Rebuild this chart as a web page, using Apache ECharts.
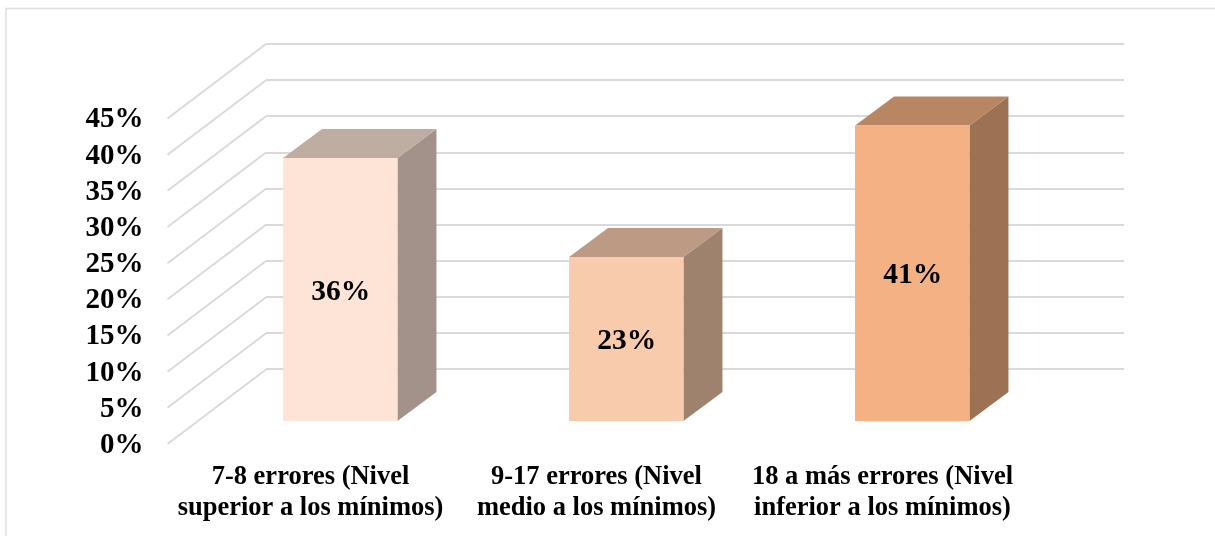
<!DOCTYPE html>
<html><head><meta charset="utf-8">
<style>html,body{margin:0;padding:0;background:#fff}#c{width:1215px;height:536px}</style>
<script src="https://cdn.jsdelivr.net/npm/echarts@6/dist/echarts.min.js"></script>
</head><body><div id="c"></div>
<script>
const categories = ['7-8 errores (Nivel\nsuperior a los mínimos)', '9-17 errores (Nivel\nmedio a los mínimos)', '18 a más errores (Nivel\ninferior a los mínimos)'];
const values = [36.4, 22.7, 40.9];
const ticks = [0, 5, 10, 15, 20, 25, 30, 35, 40, 45];
const frontColors = ['#FDE4D6', '#F7CBAC', '#F4B183'];
const topColors = ['#BEADA1', '#BC9A83', '#B98663'];
const sideColors = ['#A29289', '#9E826E', '#9C7154'];

const FONT = '"Liberation Serif","Times New Roman",serif';
const WALL_Y0 = -1.5;                    // diagonal start relative to label position
const WALL_DX = 98.5, WALL_DY = -74.5;   // front plane to back wall
const BAR_DX = 39, BAR_DY = -29;         // bar depth
const GRID_LINE = '#D9D9D9';

const yAxisBase = {type: 'value', min: 0, max: 45, interval: 5};
const xAxisBase = {type: 'category', data: categories, axisLine: {show: false}, axisTick: {show: false}};

const chart = echarts.init(document.getElementById('c'), null, {renderer: 'canvas'});
chart.setOption({
  animation: false,
  backgroundColor: '#fff',
  graphic: [{type: 'rect', silent: true, z: 0,
    shape: {x: 6, y: 8.5, width: 1400, height: 800},
    style: {fill: 'none', stroke: '#DEDEDE', lineWidth: 1.5}}],
  grid: [
    {left: 167.5, width: 858, top: 120, height: 325.5},    // front plane: axis labels
    {left: 266, width: 858, top: 44, height: 325},         // back wall: gridlines
    {left: 197.25, width: 858, top: 96, height: 325}       // bars
  ],
  xAxis: [
    Object.assign({}, xAxisBase, {gridIndex: 0, axisLabel: {
      interval: 0, margin: 16.5, color: '#000', fontFamily: FONT, fontWeight: 'bold', fontSize: 26.5, lineHeight: 31, width: 300, overflow: 'none'}}),
    Object.assign({}, xAxisBase, {gridIndex: 1, axisLabel: {show: false}}),
    Object.assign({}, xAxisBase, {gridIndex: 2, axisLabel: {show: false}})
  ],
  yAxis: [
    Object.assign({}, yAxisBase, {gridIndex: 0, axisLine: {show: false}, axisTick: {show: false}, splitLine: {show: false},
      axisLabel: {formatter: '{value}%', margin: 24, color: '#000', fontFamily: FONT, fontWeight: 'bold', fontSize: 29}}),
    Object.assign({}, yAxisBase, {gridIndex: 1, axisLine: {show: false}, axisTick: {show: false}, axisLabel: {show: false},
      splitLine: {show: true, lineStyle: {color: GRID_LINE, width: 2}}}),
    Object.assign({}, yAxisBase, {gridIndex: 2, axisLine: {show: false}, axisTick: {show: false}, axisLabel: {show: false}, splitLine: {show: false}})
  ],
  series: [
    {
      type: 'custom', name: 'pared', xAxisIndex: 0, yAxisIndex: 0, z: 1, silent: true,
      data: ticks.map(t => [0, t]),
      encode: {y: 1},
      renderItem: function (params, api) {
        const cs = params.coordSys;
        const p = api.coord([0, api.value(1)]);
        const y = p[1] + WALL_Y0;
        return {type: 'line', shape: {x1: cs.x, y1: y, x2: cs.x + WALL_DX, y2: y + WALL_DY},
          style: {stroke: GRID_LINE, lineWidth: 1.8, fill: null}};
      }
    },
    {
      type: 'custom', name: 'Errores', xAxisIndex: 2, yAxisIndex: 2, z: 5, silent: true,
      data: values.map((v, i) => [i, v]),
      encode: {x: 0, y: 1},
      renderItem: function (params, api) {
        const i = api.value(0), v = api.value(1);
        const top = api.coord([i, v]), base = api.coord([i, 0]);
        const w = api.size([1, 0])[0] * 0.4;
        const l = top[0] - w / 2, r = top[0] + w / 2, t = top[1], b = base[1];
        return {type: 'group', children: [
          {type: 'polygon', shape: {points: [[r, t], [r + BAR_DX, t + BAR_DY], [r + BAR_DX, b + BAR_DY], [r, b]]}, style: {fill: sideColors[i]}},
          {type: 'polygon', shape: {points: [[l, t], [l + BAR_DX, t + BAR_DY], [r + BAR_DX, t + BAR_DY], [r, t]]}, style: {fill: topColors[i]}},
          {type: 'rect', shape: {x: l, y: t, width: w, height: b - t}, style: {fill: frontColors[i]}},
          {type: 'text', x: top[0] + 0.5, y: (t + b) / 2 + 2.5, style: {
            text: Math.round(v) + '%', fill: '#000', font: 'bold 29.5px ' + FONT, align: 'center', verticalAlign: 'middle'}}
        ]};
      }
    }
  ]
});
</script></body></html>
